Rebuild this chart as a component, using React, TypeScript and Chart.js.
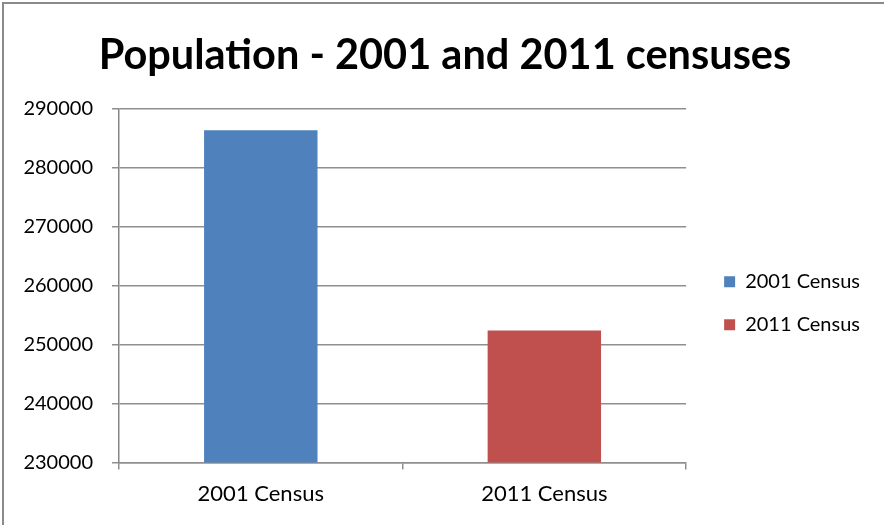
import React, { useEffect, useRef } from "react";
import { Chart, registerables } from "chart.js";

Chart.register(...registerables);

const title = "Population - 2001 and 2011 censuses";
const categories = ["2001 Census", "2011 Census"];
const populationValues = [286300, 252400];
const barColors = ["#4F81BD", "#C0504D"];
const yMin = 230000;
const yMax = 290000;
const yStep = 10000;

const FONT = "Lato, 'Open Sans', sans-serif";
const GRID = "#8f8f8f";

export default function App() {
  const ref = useRef<HTMLCanvasElement | null>(null);

  useEffect(() => {
    if (!ref.current) return;
    const datasets = categories.map((cat, i) => ({
      label: cat,
      data: categories.map((_, j) => (j === i ? populationValues[i] : null)),
      backgroundColor: barColors[i],
      borderWidth: 0,
      categoryPercentage: 1,
      barPercentage: 0.4,
    }));

    const chart = new Chart(ref.current, {
      type: "bar",
      data: { labels: categories, datasets: datasets as any },
      options: {
        animation: false,
        responsive: false,
        skipNull: true,
        layout: { padding: { left: 20, right: 14, top: 0, bottom: 7 } },
        plugins: {
          tooltip: { enabled: false },
          title: {
            display: true,
            text: title,
            color: "#000",
            font: { family: FONT, size: 41.5, weight: "bold", lineHeight: 1.2 },
            padding: { top: 31, bottom: 27.7 },
          },
          legend: {
            display: true,
            position: "right",
            fullSize: false,
            maxWidth: 220,
            title: {
              display: true,
              text: " ",
              font: { family: FONT, size: 10, lineHeight: 1 },
              padding: { top: 25.5, bottom: 0 },
            },
            labels: {
              color: "#000",
              font: { family: FONT, size: 20 },
              boxWidth: 11,
              boxHeight: 11,
              padding: 23,
            },
          },
        },
        scales: {
          x: {
            grid: {
              display: true,
              drawOnChartArea: false,
              drawTicks: true,
              tickLength: 7,
              color: GRID,
              lineWidth: 1.5,
              offset: true,
            },
            border: { display: true, color: GRID, width: 1.5 },
            ticks: {
              color: "#000",
              font: { family: FONT, size: 22 },
              padding: 11,
            },
          },
          y: {
            min: yMin,
            max: yMax,
            grid: {
              display: true,
              drawTicks: true,
              tickLength: 7,
              color: GRID,
              lineWidth: 1.5,
            },
            border: { display: true, color: "#858585", width: 1.5 },
            ticks: {
              stepSize: yStep,
              color: "#000",
              font: { family: FONT, size: 20 },
              padding: 19,
              callback: (v: any) => String(v),
            },
            afterFit: (s: any) => {
              s.width = 99;
            },
          },
          gap: {
            type: "linear",
            position: "right",
            display: true,
            grid: { display: false },
            border: { display: false },
            ticks: { display: false },
            afterFit: (s: any) => {
              s.width = 15;
            },
          },
        },
      } as any,
    });
    return () => chart.destroy();
  }, []);

  return (
    <div style={{ position: "fixed", left: 0, top: 0, width: 884, height: 525, background: "#fff" }}>
      <canvas ref={ref} width={884} height={525} style={{ position: "absolute", left: 0, top: 0 }} />
      <div
        style={{
          position: "absolute",
          left: 2,
          top: 2,
          width: 882,
          height: 523,
          borderLeft: "2px solid #8a8a8a",
          borderTop: "2px solid #8a8a8a",
          boxSizing: "border-box",
          pointerEvents: "none",
        }}
      />
    </div>
  );
}
